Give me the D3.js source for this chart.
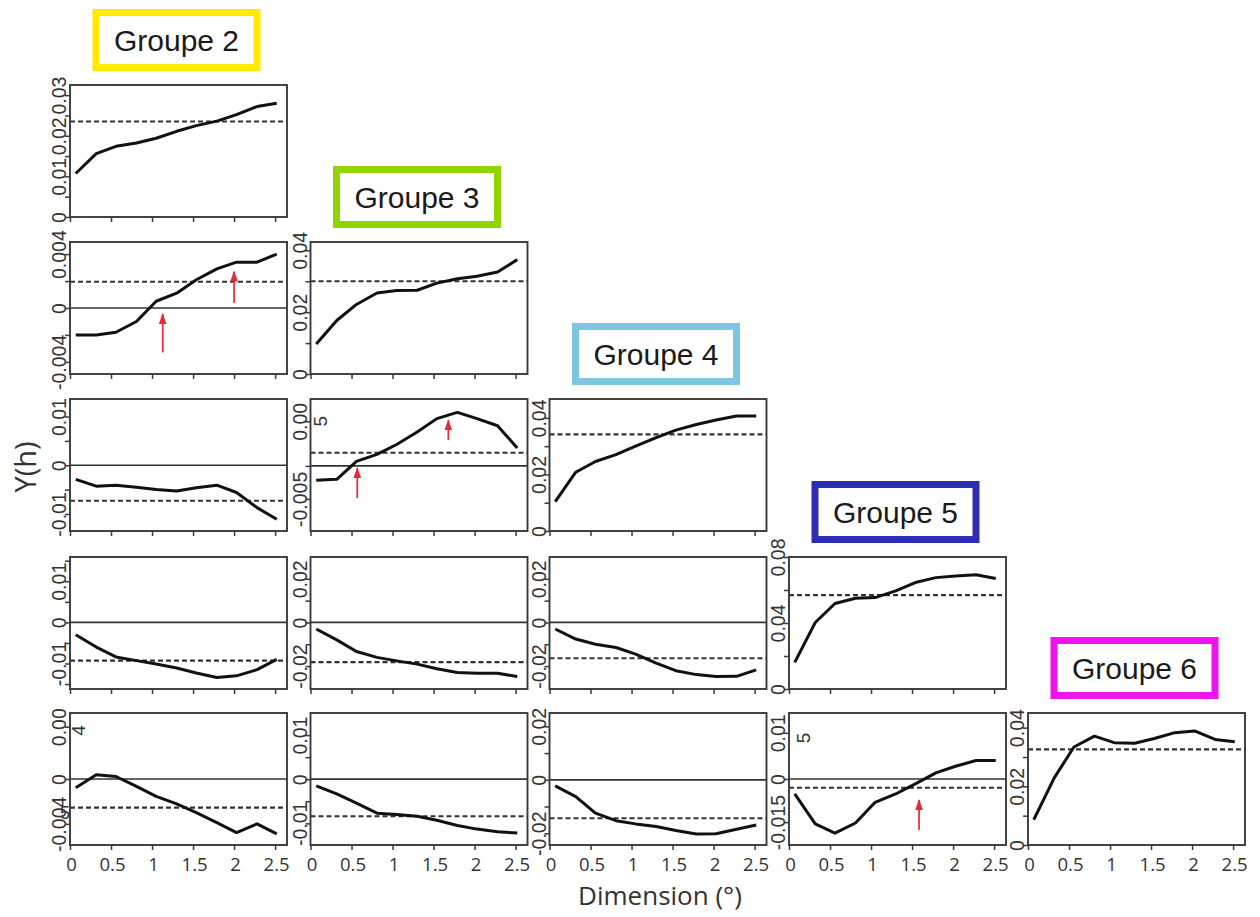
<!DOCTYPE html>
<html><head><meta charset="utf-8">
<script src="https://cdn.jsdelivr.net/npm/d3@7"></script>
<style>body{margin:0;background:#fff}svg{display:block}</style>
</head><body><svg id="c" width="1260" height="917"></svg>
<script>
// ---------------- DATA ----------------
const lags = [0.07, 0.32, 0.56, 0.81, 1.05, 1.30, 1.54, 1.79, 2.03, 2.28, 2.52];
const xTickValues = [0, 0.5, 1, 1.5, 2, 2.5];
const xTickLabels = ["0", "0.5", "1", "1.5", "2", "2.5"];
const groupNames = ["Groupe 2", "Groupe 3", "Groupe 4", "Groupe 5", "Groupe 6"];

// (cross-)variogram values, panel = row group x column group
const v22 = [0.0107, 0.0156, 0.0174, 0.0182, 0.0194, 0.0211, 0.0225, 0.0236, 0.0252, 0.0272, 0.0280];
const v23 = [-0.0020, -0.0020, -0.0018, -0.0010, 0.0005, 0.0011, 0.0021, 0.0029, 0.0034, 0.0034, 0.0040];
const v33 = [0.0097, 0.0173, 0.0225, 0.0262, 0.0270, 0.0271, 0.0294, 0.0308, 0.0316, 0.0330, 0.0370];
const v24 = [-0.0029, -0.0043, -0.0041, -0.0045, -0.0050, -0.0053, -0.0046, -0.0041, -0.0056, -0.0087, -0.0111];
const v34 = [-0.0016, -0.0015, 0.0005, 0.0013, 0.0024, 0.0038, 0.0053, 0.0060, 0.0053, 0.0045, 0.0020];
const v44 = [0.0104, 0.0208, 0.0246, 0.0270, 0.0300, 0.0330, 0.0357, 0.0377, 0.0393, 0.0407, 0.0407];
const v25 = [-0.0030, -0.0060, -0.0084, -0.0093, -0.0101, -0.0111, -0.0123, -0.0134, -0.0130, -0.0115, -0.0090];
const v35 = [-0.0030, -0.0080, -0.0133, -0.0160, -0.0176, -0.0191, -0.0212, -0.0229, -0.0233, -0.0233, -0.0248];
const v45 = [-0.0030, -0.0076, -0.0100, -0.0115, -0.0145, -0.0186, -0.0221, -0.0239, -0.0248, -0.0247, -0.0217];
const v55 = [0.0161, 0.0403, 0.0518, 0.0550, 0.0554, 0.0595, 0.0645, 0.0675, 0.0685, 0.0692, 0.0670];
const v26 = [-0.0007, 0.00035, 0.0002, -0.0006, -0.0014, -0.0020, -0.0027, -0.0035, -0.0043, -0.0036, -0.0044];
const v36 = [-0.0015, -0.0033, -0.0054, -0.0077, -0.0080, -0.0084, -0.0093, -0.0105, -0.0113, -0.0119, -0.0122];
const v46 = [-0.0023, -0.0063, -0.0125, -0.0153, -0.0165, -0.0175, -0.0190, -0.0203, -0.0202, -0.0185, -0.0169];
const v56 = [-0.0034, -0.0102, -0.0123, -0.0100, -0.0053, -0.0034, -0.0011, 0.0014, 0.0029, 0.0042, 0.0042];
const v66 = [0.0086, 0.0229, 0.0334, 0.0371, 0.0349, 0.0347, 0.0363, 0.0383, 0.0389, 0.0360, 0.0352];

// sill (dashed) levels
const sill22 = 0.0235, sill23 = 0.00195, sill33 = 0.030, sill24 = -0.0073, sill34 = 0.00147,
      sill44 = 0.0342, sill25 = -0.0093, sill35 = -0.0182, sill45 = -0.0164, sill55 = 0.0569,
      sill26 = -0.0023, sill36 = -0.0084, sill46 = -0.0144, sill56 = -0.0020, sill66 = 0.0326;

// y domains
const dom22 = [0, 0.0325], dom23 = [-0.0049, 0.0049], dom33 = [0, 0.0427], dom24 = [-0.0135, 0.0136],
      dom34 = [-0.0073, 0.0075], dom44 = [0, 0.0467], dom25 = [-0.0162, 0.0159], dom35 = [-0.0305, 0.030],
      dom45 = [-0.0305, 0.030], dom55 = [0, 0.080], dom26 = [-0.0053, 0.0053], dom36 = [-0.0149, 0.015],
      dom46 = [-0.0244, 0.025], dom56 = [-0.015, 0.015], dom66 = [0, 0.045];

// y ticks & labels
const t22 = [0, 0.005, 0.01, 0.015, 0.02, 0.025, 0.03], l22 = ["0", "", "0.01", "", "0.02", "", "0.03"];
const t23 = [-0.004, -0.002, 0, 0.002, 0.004], l23 = ["-0.004", "", "0", "", "0.004"];
const t33 = [0, 0.01, 0.02, 0.03, 0.04], l33 = ["0", "", "0.02", "", "0.04"];
const t24 = [-0.01, -0.005, 0, 0.005, 0.01], l24 = ["-0.01", "", "0", "", "0.01"];
const t34 = [-0.0037, 0, 0.005], l34 = ["-0.005", "", "0.00"];
const t44 = [0, 0.01, 0.02, 0.03, 0.04], l44 = ["0", "", "0.02", "", "0.04"];
const t25 = [-0.015, -0.01, -0.005, 0, 0.005, 0.01, 0.015], l25 = ["", "-0.01", "", "0", "", "0.01", ""];
const t35 = [-0.02, -0.01, 0, 0.01, 0.02], l35 = ["-0.02", "", "0", "", "0.02"];
const t45 = [-0.02, -0.01, 0, 0.01, 0.02], l45 = ["-0.02", "", "0", "", "0.02"];
const t55 = [0, 0.02, 0.04, 0.06, 0.08], l55 = ["0", "", "0.04", "", "0.08"];
const t26 = [-0.0036, 0, 0.0042], l26 = ["-0.004", "0", "0.00"];
const t36 = [-0.01, -0.005, 0, 0.005, 0.01], l36 = ["-0.01", "", "0", "", "0.01"];
const t46 = [-0.02, -0.01, 0, 0.01, 0.02], l46 = ["-0.02", "", "0", "", "0.02"];
const t56 = [-0.0098, 0, 0.0105], l56 = ["-0.015", "0", "0.01"];
const t66 = [0, 0.01, 0.02, 0.03, 0.04], l66 = ["0", "", "0.02", "", "0.04"];

// red arrows [panelKey, x, yFrom, yTo]
const arrows = [["23", 1.13, -0.0033, -0.00045], ["23", 2.0, 0.00037, 0.0027],
                ["34", 0.57, -0.0036, -0.00024], ["34", 1.68, 0.0029, 0.0051],
                ["56", 1.585, -0.0116, -0.0048]];
// stray label fragments [panelKey, x, y, text, rotated]
const strays = [["34", 0.20, 0.005, "5", true], ["26", 0.18, 0.0039, "4", true],
                ["56", 0.26, 0.0093, "5", true], ["26", -0.06, -0.0027, "5", false]];

// ---------------- LAYOUT ----------------
const colX = [70, 310.5, 549.5, 789, 1028];
const rowY = [85, 242, 399, 557, 713];
const PW = 217, PH = 132;
const groupColors = ["#FFEA00", "#92D400", "#7CC8E2", "#2E2EB4", "#EE14EE"];

const panels = [
  ["22",0,0,v22,sill22,dom22,t22,l22], ["23",1,0,v23,sill23,dom23,t23,l23], ["33",1,1,v33,sill33,dom33,t33,l33],
  ["24",2,0,v24,sill24,dom24,t24,l24], ["34",2,1,v34,sill34,dom34,t34,l34], ["44",2,2,v44,sill44,dom44,t44,l44],
  ["25",3,0,v25,sill25,dom25,t25,l25], ["35",3,1,v35,sill35,dom35,t35,l35], ["45",3,2,v45,sill45,dom45,t45,l45],
  ["55",3,3,v55,sill55,dom55,t55,l55], ["26",4,0,v26,sill26,dom26,t26,l26], ["36",4,1,v36,sill36,dom36,t36,l36],
  ["46",4,2,v46,sill46,dom46,t46,l46], ["56",4,3,v56,sill56,dom56,t56,l56], ["66",4,4,v66,sill66,dom66,t66,l66]
];

const svg = d3.select("#c");
const defs = svg.append("defs");
defs.append("marker").attr("id", "ah").attr("viewBox", "0 0 10 10").attr("refX", 9).attr("refY", 5)
  .attr("markerWidth", 11).attr("markerHeight", 11).attr("markerUnits", "userSpaceOnUse").attr("orient", "auto")
  .append("path").attr("d", "M0,1.5 L10,5 L0,8.5 Z").attr("fill", "#E8283C");

const x = d3.scaleLinear().domain([0, 2.645]).range([0, PW]);
const tickFont = "'Liberation Sans', Arial, sans-serif";
const scales = {};

panels.forEach(([key, r, c, vals, sill, dom, ticks, labels]) => {
  const g = svg.append("g").attr("transform", `translate(${colX[c]},${rowY[r]})`);
  const y = d3.scaleLinear().domain(dom).range([PH, 0]);
  scales[key] = {g, y};
  if (r !== c) {
    g.append("line").attr("x1", 0).attr("x2", PW).attr("y1", y(0)).attr("y2", y(0))
      .attr("stroke", "#333").attr("stroke-width", 1.7);
  }
  g.append("line").attr("x1", 0).attr("x2", PW).attr("y1", y(sill)).attr("y2", y(sill))
    .attr("stroke", "#333").attr("stroke-width", 2.1).attr("stroke-dasharray", "5,3");
  g.append("path").datum(vals.map((v, i) => [lags[i], v]))
    .attr("d", d3.line().x(d => x(d[0])).y(d => y(d[1])))
    .attr("fill", "none").attr("stroke", "#111").attr("stroke-width", 3).attr("stroke-linejoin", "round");
  g.append("rect").attr("x", 0).attr("y", 0).attr("width", PW).attr("height", PH)
    .attr("fill", "none").attr("stroke", "#3a3a3a").attr("stroke-width", 1.9);

  // y axis
  const ya = g.append("g").call(d3.axisLeft(y).tickValues(ticks).tickSize(5).tickFormat((d, i) => labels[i]));
  ya.select(".domain").remove();
  ya.selectAll("line").attr("stroke", "#3a3a3a").attr("stroke-width", 1.5);
  ya.selectAll("text").attr("x", null).attr("dy", null).attr("text-anchor", "middle")
    .attr("transform", "translate(-4,0) rotate(-90)")
    .attr("font-family", tickFont).attr("font-size", 19.5).attr("fill", "#333");

  // x axis
  const xa = g.append("g").attr("transform", `translate(0,${PH})`)
    .call(d3.axisBottom(x).tickValues(xTickValues).tickSize(5)
      .tickFormat((d, i) => r === 4 ? xTickLabels[i] : ""));
  xa.select(".domain").remove();
  xa.selectAll("line").attr("stroke", "#3a3a3a").attr("stroke-width", 1.5);
  xa.selectAll("text").attr("y", null).attr("dy", null).attr("transform", "translate(1,26)")
    .attr("font-family", "'Open Sans', sans-serif").attr("font-size", 18.5).attr("fill", "#333");
});

// arrows
arrows.forEach(([key, ax, y0, y1]) => {
  const {g, y} = scales[key];
  g.append("line").attr("x1", x(ax)).attr("x2", x(ax)).attr("y1", y(y0)).attr("y2", y(y1))
    .attr("stroke", "#E8283C").attr("stroke-width", 1.7).attr("marker-end", "url(#ah)");
});

// stray fragments
strays.forEach(([key, sx, sy, t, rot]) => {
  const {g, y} = scales[key];
  g.append("text").attr("transform", `translate(${x(sx)},${y(sy)})` + (rot ? " rotate(-90)" : ""))
    .attr("text-anchor", "middle").attr("dy", rot ? 0 : "0.35em")
    .attr("font-family", tickFont).attr("font-size", rot ? 19 : 18).attr("fill", "#333").text(t);
});

// group label boxes
groupNames.forEach((name, i) => {
  const cx = colX[i] + PW / 2 - 2, top = rowY[i] - 76;
  const bw = 168, bh = 62;
  svg.append("rect").attr("x", cx - bw / 2 + 3.5).attr("y", top + 3.5)
    .attr("width", bw - 7).attr("height", bh - 7)
    .attr("fill", "#fff").attr("stroke", groupColors[i]).attr("stroke-width", 7);
  svg.append("text").attr("x", cx).attr("y", top + 42).attr("text-anchor", "middle")
    .attr("font-family", "'Liberation Sans', Arial, sans-serif").attr("font-size", 30)
    .attr("fill", "#1a1a1a").text(name);
});

// axis titles
svg.append("text").attr("transform", "translate(36,467) rotate(-90)").attr("text-anchor", "middle")
  .attr("font-family", "'Open Sans', sans-serif").attr("font-size", 29).attr("fill", "#333").text("Y(h)");
svg.append("text").attr("x", 660).attr("y", 905).attr("text-anchor", "middle")
  .attr("font-family", "'Open Sans', sans-serif").attr("font-size", 26).attr("fill", "#333").text("Dimension (°)");
</script></body></html>
